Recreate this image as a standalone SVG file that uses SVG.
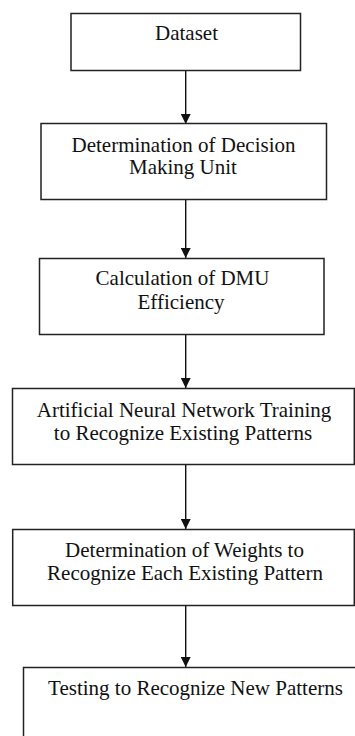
<svg xmlns="http://www.w3.org/2000/svg" width="355" height="736" viewBox="0 0 355 736">
<style>
.box{fill:#fff;stroke:#222;stroke-width:1.5}
.t{font-family:"Liberation Serif","Times New Roman",serif;font-size:21px;fill:#111;text-anchor:middle}
.c{stroke:#111;stroke-width:1.4;fill:none}
</style>
<defs>
<marker id="ah" markerWidth="10" markerHeight="10" refX="10" refY="5" orient="auto" markerUnits="userSpaceOnUse">
<path d="M0,0 L10,5 L0,10 Z" fill="#111"/>
</marker>
</defs>
<rect width="355" height="736" fill="#fff"/>
<g id="connectors">
<line class="c" x1="185.7" y1="70.7" x2="185.7" y2="124" marker-end="url(#ah)"/>
<line class="c" x1="185.7" y1="199.3" x2="185.7" y2="258" marker-end="url(#ah)"/>
<line class="c" x1="185.7" y1="334.3" x2="185.7" y2="388" marker-end="url(#ah)"/>
<line class="c" x1="185.7" y1="464.3" x2="185.7" y2="529" marker-end="url(#ah)"/>
<line class="c" x1="185.7" y1="605.3" x2="185.7" y2="667" marker-end="url(#ah)"/>
</g>
<g id="n1">
<rect class="box" x="71" y="13.5" width="229.5" height="57"/>
<text class="t" x="186.5" y="40">Dataset</text>
</g>
<g id="n2">
<rect class="box" x="41" y="123.5" width="285.5" height="76"/>
<text class="t" x="183.5" y="151.5">Determination of Decision</text>
<text class="t" x="183" y="173.5">Making Unit</text>
</g>
<g id="n3">
<rect class="box" x="39.5" y="258.5" width="284.5" height="76"/>
<text class="t" x="182.5" y="285">Calculation of DMU</text>
<text class="t" x="181" y="308.5">Efficiency</text>
</g>
<g id="n4">
<rect class="box" x="12.5" y="388.5" width="341.8" height="76"/>
<text class="t" x="184" y="416.5">Artificial Neural Network Training</text>
<text class="t" x="183" y="440">to Recognize Existing Patterns</text>
</g>
<g id="n5">
<rect class="box" x="12.7" y="529.5" width="341.6" height="76"/>
<text class="t" x="184.5" y="556.5">Determination of Weights to</text>
<text class="t" x="185" y="580">Recognize Each Existing Pattern</text>
</g>
<g id="n6">
<rect class="box" x="23.5" y="667.5" width="340" height="80"/>
<text class="t" x="195.5" y="695">Testing to Recognize New Patterns</text>
</g>
</svg>
